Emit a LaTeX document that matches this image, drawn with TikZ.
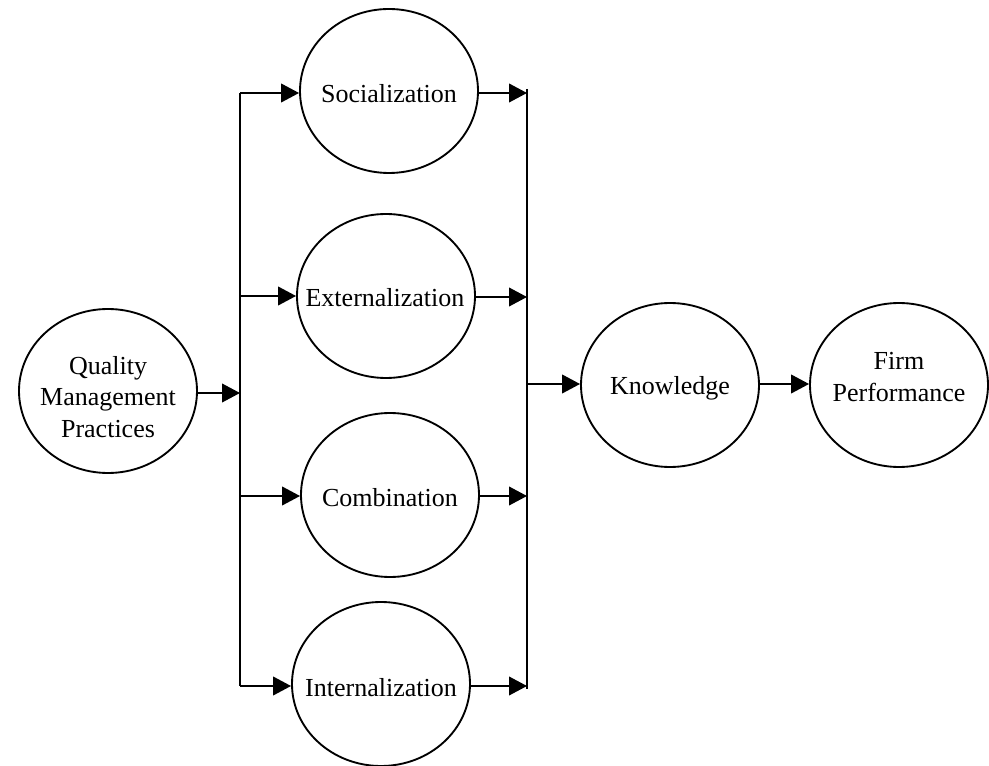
\documentclass[tikz,border=0pt]{standalone}
\usepackage{fontspec}
\setmainfont{Liberation Serif}
\usetikzlibrary{shapes.geometric,arrows.meta}
\begin{document}
\begin{tikzpicture}[x=0.75pt,y=-0.75pt,
  bubble/.style={ellipse,draw,line width=1.4pt,inner sep=0pt,minimum width=133.5pt,minimum height=123pt},
  txt/.style={inner sep=0pt,align=center,font=\fontsize{19.5}{23.5}\selectfont},
  conn/.style={line width=1.4pt},
  arr/.style={line width=1.4pt,-{Triangle[length=13.5pt,width=14pt]}}]
\useasboundingbox (0,0) rectangle (989,766);
% bubbles
\node[bubble] (qmp) at (108,391) {};
\node[bubble] (soc) at (389,91) {};
\node[bubble] (ext) at (386,296) {};
\node[bubble] (com) at (390,495) {};
\node[bubble] (int) at (381,684) {};
\node[bubble] (kno) at (670,385) {};
\node[bubble] (fir) at (899,385) {};
% texts
\node[txt] (qmpt) at (108,397) {Quality\\Management\\Practices};
\node[txt] (soct) at (389,94) {Socialization};
\node[txt] (extt) at (385,298) {Externalization};
\node[txt] (comt) at (390,498) {Combination};
\node[txt] (intt) at (381,688) {Internalization};
\node[txt] (knot) at (670,388) {Knowledge};
\node[txt] (firt) at (899,377) {Firm\\Performance};
% bus coordinates
\coordinate (lq) at (240,393);
\coordinate (l1) at (240,93);
\coordinate (l2) at (240,296);
\coordinate (l3) at (240,496);
\coordinate (l4) at (240,686);
\coordinate (r0) at (527,89);
\coordinate (r1) at (527,93);
\coordinate (r2) at (527,297);
\coordinate (r3) at (527,496);
\coordinate (r4) at (527,686);
\coordinate (r5) at (527,689);
\coordinate (rk) at (527,384);
% connectors
\draw[arr] (qmp.east |- lq) -- (lq);
\draw[conn] (l1) -- (l4);
\draw[arr] (l1) -- (soc.west |- l1);
\draw[arr] (l2) -- (ext.west |- l2);
\draw[arr] (l3) -- (com.west |- l3);
\draw[arr] (l4) -- (int.west |- l4);
\draw[conn] (r0) -- (r5);
\draw[arr] (soc.east |- r1) -- (r1);
\draw[arr] (ext.east |- r2) -- (r2);
\draw[arr] (com.east |- r3) -- (r3);
\draw[arr] (int.east |- r4) -- (r4);
\draw[arr] (rk) -- (kno.west |- rk);
\draw[arr] (kno.east |- rk) -- (fir.west |- rk);
\end{tikzpicture}
\end{document}
